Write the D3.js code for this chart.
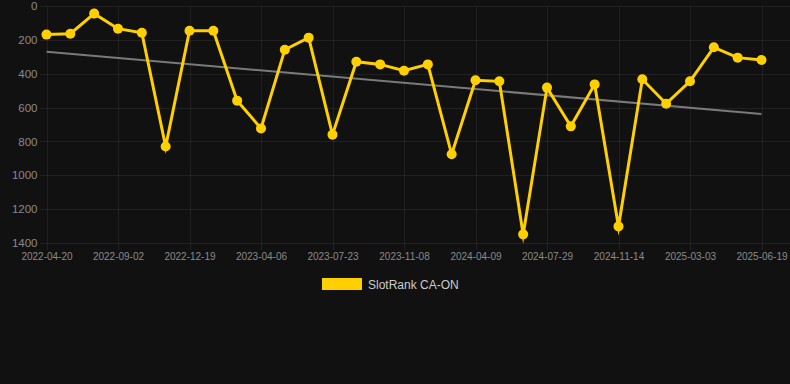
<!DOCTYPE html>
<html><head><meta charset="utf-8">
<script src="https://cdn.jsdelivr.net/npm/d3@7"></script>
<style>
html,body{margin:0;padding:0;background:#111111;}
svg{display:block;}
</style></head>
<body>
<svg id="chart" width="790" height="384"></svg>
<script>
const tickLabels = ["2022-04-20","2022-09-02","2022-12-19","2023-04-06","2023-07-23","2023-11-08","2024-04-09","2024-07-29","2024-11-14","2025-03-03","2025-06-19"];
const rankValues = [169,164,45,134,158,830,146,146,559,723,258,187,760,329,345,382,345,876,439,445,1349,482,711,463,1302,433,577,445,244,305,319];
const yTicks = [0,200,400,600,800,1000,1200,1400];
const seriesName = "SlotRank CA-ON";

(function(){
const svg = d3.select("#chart");
const W = 790, H = 384;
const pLeft = 46.5, pRight = 761.5, pTop = 6, pBottom = 243;

const idx = rankValues.map((d,i)=>i);
const x = d3.scalePoint().domain(idx).range([pLeft, pRight]);
const y = d3.scaleLinear().domain([0,1400]).range([pTop, pBottom]);

svg.append("rect").attr("width",W).attr("height",H).attr("fill","#111111");

const gridColor = "rgba(255,255,255,0.065)";
svg.append("g").selectAll("line").data(yTicks).join("line")
  .attr("x1", 40).attr("x2", W)
  .attr("y1", d=>Math.round(y(d))+0.5).attr("y2", d=>Math.round(y(d))+0.5)
  .attr("stroke", gridColor).attr("stroke-width",1);

const tickIdx = tickLabels.map((d,i)=>i*3);
svg.append("g").selectAll("line").data(tickIdx).join("line")
  .attr("x1", d=>Math.round(x(d))+0.5).attr("x2", d=>Math.round(x(d))+0.5)
  .attr("y1", pTop).attr("y2", pBottom+7)
  .attr("stroke", gridColor).attr("stroke-width",1);

const yAxis = d3.axisLeft(y).tickValues(yTicks).tickSize(0).tickPadding(0).tickFormat(d3.format("d"));
const gy = svg.append("g").attr("transform",`translate(${pLeft-9},0)`).call(yAxis);
gy.select(".domain").remove();
gy.selectAll("text").attr("fill","#8a8a8a").style("font-family","Liberation Sans, Arial, sans-serif").style("font-size","11.5px");

const xAxis = d3.axisBottom(x).tickValues(tickIdx).tickSize(0).tickPadding(0).tickFormat(d=>tickLabels[d/3]);
const gx = svg.append("g").attr("transform",`translate(0,${pBottom+10})`).call(xAxis);
gx.select(".domain").remove();
gx.selectAll("text").attr("fill","#8a8a8a").style("font-family","Liberation Sans, Arial, sans-serif").style("font-size","10px");

const n = rankValues.length;
const mx = d3.mean(idx), my = d3.mean(rankValues);
const slope = d3.sum(idx, i=>(i-mx)*(rankValues[i]-my)) / d3.sum(idx, i=>(i-mx)*(i-mx));
const icpt = my - slope*mx;
svg.append("line")
  .attr("x1", x(0)).attr("y1", y(icpt))
  .attr("x2", x(n-1)).attr("y2", y(icpt + slope*(n-1)))
  .attr("stroke","#7a7a7a").attr("stroke-width",2);

const gold = "#FFD000";
const line = d3.line().x((d,i)=>x(i)).y(d=>y(d));
svg.append("path").datum(rankValues).attr("d", line)
  .attr("fill","none").attr("stroke",gold).attr("stroke-width",3)
  .attr("stroke-linejoin","miter").attr("stroke-miterlimit",10);

svg.append("g").selectAll("circle").data(rankValues).join("circle")
  .attr("cx",(d,i)=>x(i)).attr("cy",d=>y(d)).attr("r",5)
  .attr("fill",gold);

svg.append("rect").attr("x",322).attr("y",278).attr("width",40).attr("height",12).attr("fill",gold);
svg.append("text").attr("x",368).attr("y",289).text(seriesName)
  .attr("fill","#cccccc").style("font-family","Liberation Sans, Arial, sans-serif").style("font-size","12px");
})();
</script>
</body></html>
